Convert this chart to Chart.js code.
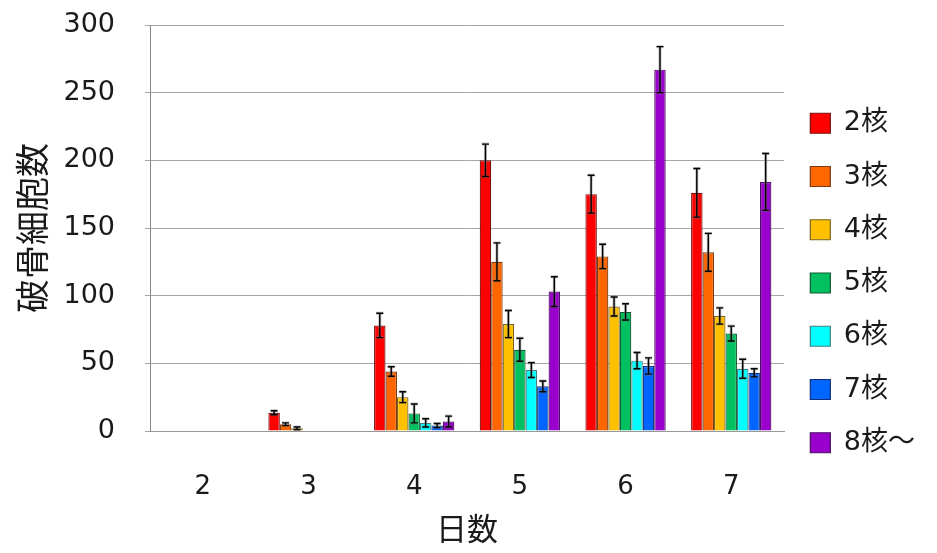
<!DOCTYPE html>
<html>
<head>
<meta charset="utf-8">
<script src="https://cdn.jsdelivr.net/npm/chart.js@4"></script>
<style>
  html, body { margin: 0; padding: 0; background: #fff; }
  #wrap { width: 937px; height: 553px; }
</style>
</head>
<body>
<div id="wrap"><canvas id="c" width="937" height="553"></canvas></div>
<script>
// days after culture
const days = ['2', '3', '4', '5', '6', '7'];

// osteoclast counts by nucleus number
const nuc2 = [0, 13.5, 78, 200, 175, 176];
const nuc3 = [0, 5, 44, 125, 129, 132];
const nuc4 = [0, 2, 25, 79, 92, 85];
const nuc5 = [0, 0, 13, 60, 88, 72];
const nuc6 = [0, 0, 6, 45, 52, 46];
const nuc7 = [0, 0, 4, 33, 48, 43];
const nuc8 = [0, 0, 7, 103, 267, 184];

// error bar half-lengths
const err2 = [0, 1.5, 9, 12, 14, 18];
const err3 = [0, 1, 3.5, 14, 9, 14];
const err4 = [0, 1, 4, 10, 7, 6];
const err5 = [0, 0, 7, 8.5, 6, 5.5];
const err6 = [0, 0, 3, 5.5, 6, 7];
const err7 = [0, 0, 1.5, 4, 6, 3];
const err8 = [0, 0, 4, 11, 17, 21];

const yTicks = [0, 50, 100, 150, 200, 250, 300];

const FONT = '"DejaVu Sans", "Noto Sans CJK JP", sans-serif';
const CJK = '"Noto Sans CJK JP", sans-serif';
const TEXT = '#1a1a1a';

const series = [
  { label: '2核', data: nuc2, err: err2, color: '#ff0000', edge: '#7a1010' },
  { label: '3核', data: nuc3, err: err3, color: '#ff6600', edge: '#7a3a10' },
  { label: '4核', data: nuc4, err: err4, color: '#ffc000', edge: '#7a6420' },
  { label: '5核', data: nuc5, err: err5, color: '#00c060', edge: '#105a30' },
  { label: '6核', data: nuc6, err: err6, color: '#00ffff', edge: '#408080' },
  { label: '7核', data: nuc7, err: err7, color: '#0066ff', edge: '#10307a' },
  { label: '8核～', data: nuc8, err: err8, color: '#9900cc', edge: '#4a1060' }
];

// draws the error bars on top of each bar
const errorBars = {
  id: 'errorBars',
  afterDatasetsDraw(chart) {
    const ctx = chart.ctx;
    const y = chart.scales.y;
    chart.data.datasets.forEach((ds, i) => {
      const meta = chart.getDatasetMeta(i);
      meta.data.forEach((bar, j) => {
        const e = ds.errors[j];
        if (!e) return;
        const v = ds.data[j];
        const top = y.getPixelForValue(v + e);
        const bot = y.getPixelForValue(Math.max(v - e, 0));
        const cap = 3.5;
        ctx.save();
        // faint grey halo like the original
        ctx.strokeStyle = 'rgba(120,120,120,0.45)';
        ctx.lineWidth = 3;
        ctx.beginPath();
        ctx.moveTo(bar.x, top); ctx.lineTo(bar.x, bot);
        ctx.moveTo(bar.x - cap, top); ctx.lineTo(bar.x + cap, top);
        ctx.moveTo(bar.x - cap, bot); ctx.lineTo(bar.x + cap, bot);
        ctx.stroke();
        ctx.strokeStyle = '#000';
        ctx.lineWidth = 1.4;
        ctx.beginPath();
        ctx.moveTo(bar.x, top); ctx.lineTo(bar.x, bot);
        ctx.moveTo(bar.x - cap, top); ctx.lineTo(bar.x + cap, top);
        ctx.moveTo(bar.x - cap, bot); ctx.lineTo(bar.x + cap, bot);
        ctx.stroke();
        ctx.restore();
      });
    });
  }
};

new Chart(document.getElementById('c').getContext('2d'), {
  type: 'bar',
  data: {
    labels: days,
    datasets: series.map(s => ({
      label: s.label,
      data: s.data,
      errors: s.err,
      backgroundColor: s.color,
      borderColor: s.edge,
      borderWidth: 1.2,
      categoryPercentage: 0.76,
      barPercentage: 1.0
    }))
  },
  options: {
    responsive: false,
    animation: false,
    layout: { padding: { top: 25, left: 10, right: 12, bottom: 12 } },
    plugins: {
      tooltip: { enabled: false },
      legend: {
        position: 'right',
        labels: {
          boxWidth: 20,
          boxHeight: 20,
          padding: 26.25,
          color: TEXT,
          font: { family: FONT, size: 27 }
        }
      }
    },
    scales: {
      x: {
        grid: { display: false },
        border: { display: true, color: '#999' },
        ticks: { color: TEXT, padding: 33, font: { family: FONT, size: 26 } },
        title: {
          display: true, text: '日数', color: TEXT,
          padding: { top: 0, bottom: -5.5 },
          font: { family: CJK, size: 31 }
        },
        afterFit(s) { s.height = 110; }
      },
      y: {
        min: 0,
        max: 300,
        afterBuildTicks(s) { s.ticks = yTicks.map(v => ({ value: v })); },
        grid: { color: '#a6a6a6', lineWidth: 1, tickLength: 5, drawTicks: true },
        border: { display: true, color: '#888' },
        ticks: { color: TEXT, padding: 30, font: { family: FONT, size: 27 } },
        title: {
          display: true, text: '破骨細胞数', color: TEXT,
          padding: { top: 2, bottom: 4 },
          font: { family: CJK, size: 34 }
        },
        afterFit(s) { s.width = 140; s.paddingTop = 0; s.paddingBottom = 0; }
      }
    }
  },
  plugins: [errorBars]
});
</script>
</body>
</html>
